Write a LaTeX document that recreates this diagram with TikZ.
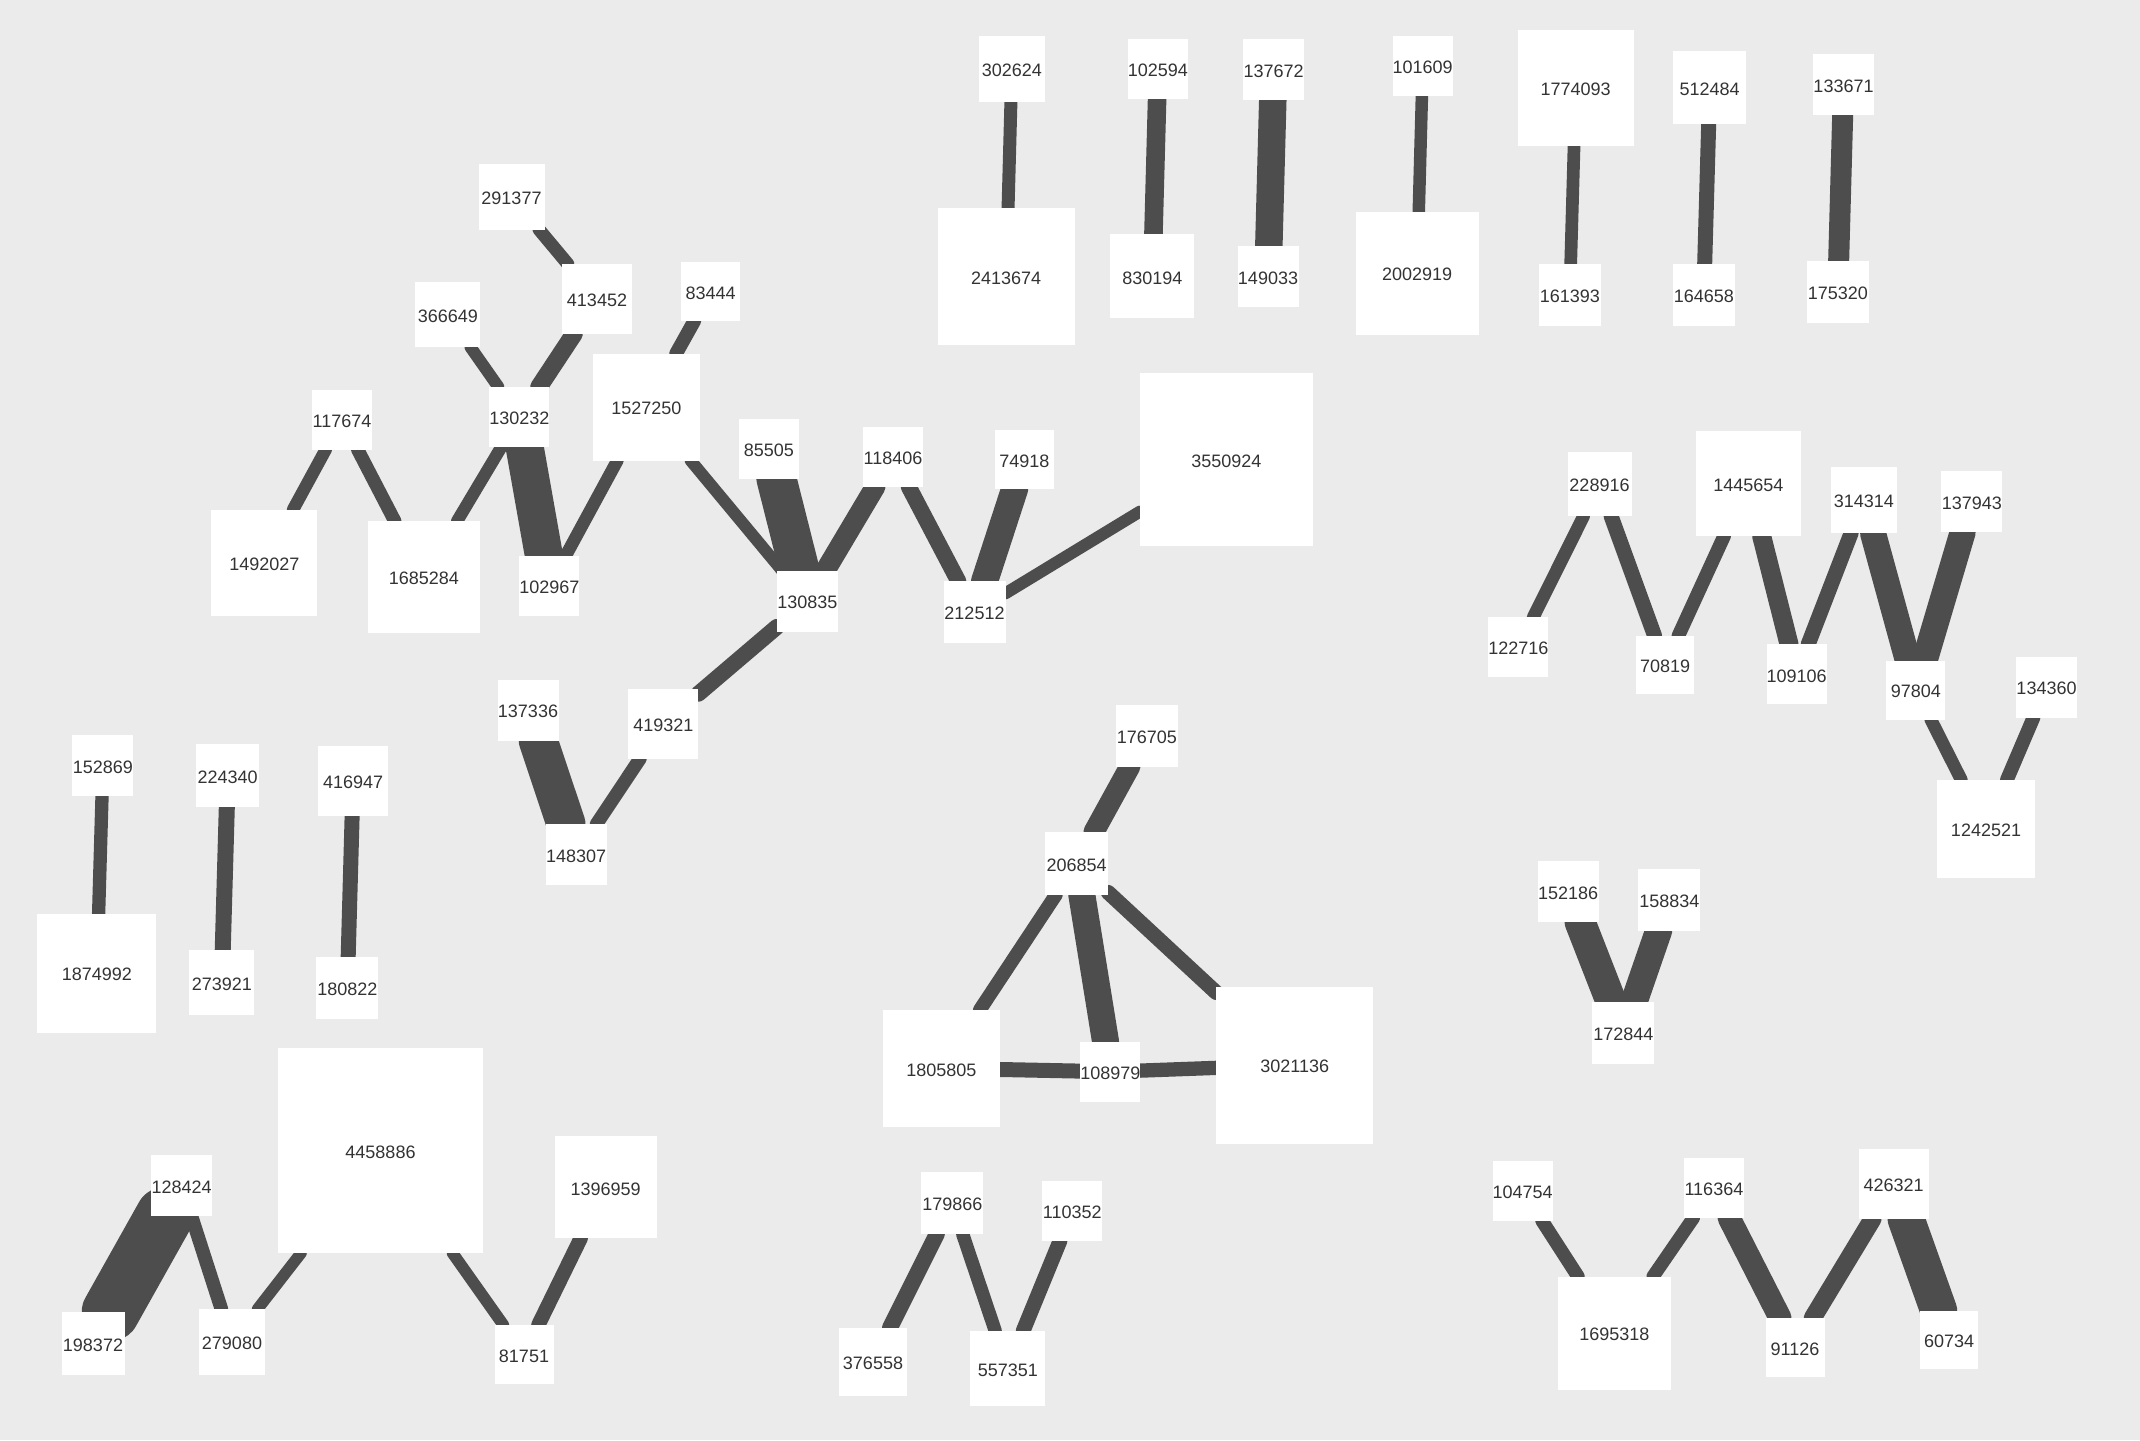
\documentclass[tikz,border=0pt]{standalone}
\usepackage{fontspec}
\setmainfont{Liberation Sans}
\pgfdeclarelayer{bg}
\pgfdeclarelayer{edges}
\pgfsetlayers{bg,edges,main}
\definecolor{bgc}{HTML}{EBEBEB}
\definecolor{edc}{HTML}{4D4D4D}
\definecolor{txc}{HTML}{333333}
\tikzset{
  box/.style={fill=white, draw=none, inner sep=0pt, outer sep=0pt, minimum size=#1pt, text=txc, font=\fontsize{18}{21}\selectfont, text height=15.5pt, text depth=0pt},
  link/.style={draw=edc, line width=#1pt, line cap=round},
}
\begin{document}
\begin{tikzpicture}[x=1pt,y=-1pt]
\begin{pgfonlayer}{bg}
\useasboundingbox (0,0) rectangle (2140,1440);
\fill[bgc] (0,0) rectangle (2140,1440);
\end{pgfonlayer}
% top row pairs
\node[box=66] (n302624) at (1011.8,69.2) {302624};
\node[box=137] (n2413674) at (1006.2,276.5) {2413674};
\node[box=60] (n102594) at (1157.9,69.2) {102594};
\node[box=84] (n830194) at (1152.3,276.3) {830194};
\node[box=61] (n137672) at (1273.6,69.3) {137672};
\node[box=61] (n149033) at (1268,276.3) {149033};
\node[box=60] (n101609) at (1422.7,66) {101609};
\node[box=123] (n2002919) at (1417.1,273) {2002919};
\node[box=116] (n1774093) at (1575.7,87.7) {1774093};
\node[box=62] (n161393) at (1569.8,294.8) {161393};
\node[box=73] (n512484) at (1709.7,87.7) {512484};
\node[box=62] (n164658) at (1703.8,294.8) {164658};
\node[box=61] (n133671) at (1843.5,84.5) {133671};
\node[box=62] (n175320) at (1837.8,291.8) {175320};
% left cluster
\node[box=66] (n291377) at (511.5,196.5) {291377};
\node[box=70] (n413452) at (597,299) {413452};
\node[box=59] (n83444) at (710.7,291.5) {83444};
\node[box=65] (n366649) at (447.8,314.8) {366649};
\node[box=60] (n130232) at (519.3,416.8) {130232};
\node[box=107] (n1527250) at (646.3,407) {1527250};
\node[box=60] (n117674) at (342.1,419.5) {117674};
\node[box=106] (n1492027) at (264.3,562.5) {1492027};
\node[box=112] (n1685284) at (423.8,577) {1685284};
\node[box=60] (n102967) at (549.3,586) {102967};
\node[box=60] (n85505) at (768.8,448.5) {85505};
\node[box=60] (n118406) at (893,456.8) {118406};
\node[box=59] (n74918) at (1024.3,459.3) {74918};
\node[box=173] (n3550924) at (1226.3,459.3) {3550924};
\node[box=61] (n130835) at (807.3,601) {130835};
\node[box=62] (n212512) at (974.5,612.1) {212512};
\node[box=70] (n419321) at (663.4,723.5) {419321};
\node[box=61] (n137336) at (528,710) {137336};
\node[box=61] (n148307) at (576.2,854.5) {148307};
% lower left
\node[box=61] (n152869) at (102.9,765.8) {152869};
\node[box=119] (n1874992) at (96.9,973) {1874992};
\node[box=63] (n224340) at (227.7,775.8) {224340};
\node[box=65] (n273921) at (221.8,982.8) {273921};
\node[box=70] (n416947) at (353.1,781) {416947};
\node[box=62] (n180822) at (347.3,988.2) {180822};
\node[box=205] (n4458886) at (380.5,1150.5) {4458886};
\node[box=102] (n1396959) at (605.6,1187.3) {1396959};
\node[box=61] (n128424) at (181.6,1185.5) {128424};
\node[box=63] (n198372) at (93,1343.5) {198372};
\node[box=66] (n279080) at (232,1342) {279080};
\node[box=59] (n81751) at (524,1354.3) {81751};
% middle
\node[box=62] (n176705) at (1146.9,735.5) {176705};
\node[box=63] (n206854) at (1076.7,863.3) {206854};
\node[box=117] (n1805805) at (941.3,1068.3) {1805805};
\node[box=60] (n108979) at (1110.4,1071.7) {108979};
\node[box=157] (n3021136) at (1294.7,1065) {3021136};
\node[box=62] (n179866) at (952.3,1203.2) {179866};
\node[box=60] (n110352) at (1072.3,1210.8) {110352};
\node[box=68] (n376558) at (873,1361.7) {376558};
\node[box=75] (n557351) at (1007.8,1368.3) {557351};
% right
\node[box=64] (n228916) at (1599.5,484.2) {228916};
\node[box=105] (n1445654) at (1748.3,483.3) {1445654};
\node[box=66] (n314314) at (1863.9,500) {314314};
\node[box=61] (n137943) at (1971.8,501.3) {137943};
\node[box=60] (n122716) at (1518.4,647) {122716};
\node[box=58] (n70819) at (1665.1,664.7) {70819};
\node[box=60] (n109106) at (1796.6,674.3) {109106};
\node[box=59] (n97804) at (1915.9,690) {97804};
\node[box=61] (n134360) at (2046.5,687) {134360};
\node[box=98] (n1242521) at (1986,828.8) {1242521};
\node[box=61] (n152186) at (1568.2,891.7) {152186};
\node[box=62] (n158834) at (1669.3,899.8) {158834};
\node[box=62] (n172844) at (1623.3,1033) {172844};
\node[box=60] (n104754) at (1522.7,1190.7) {104754};
\node[box=113] (n1695318) at (1614.3,1333) {1695318};
\node[box=60] (n116364) at (1713.9,1188) {116364};
\node[box=70] (n426321) at (1893.6,1184) {426321};
\node[box=59] (n91126) at (1795,1347.3) {91126};
\node[box=58] (n60734) at (1949,1339.5) {60734};
\begin{pgfonlayer}{edges}
\draw[link=13] (n302624) -- (n2413674);
\draw[link=18.6] (n102594) -- (n830194);
\draw[link=27.5] (n137672) -- (n149033);
\draw[link=12.5] (n101609) -- (n2002919);
\draw[link=12.7] (n1774093) -- (n161393);
\draw[link=15] (n512484) -- (n164658);
\draw[link=21] (n133671) -- (n175320);
\draw[link=13] (n291377) -- (n413452);
\draw[link=17.6] (n413452) -- (n130232);
\draw[link=12] (n366649) -- (n130232);
\draw[link=13.7] (n83444) -- (n1527250);
\draw[link=12.5] (n117674) -- (n1492027);
\draw[link=13.3] (n117674) -- (n1685284);
\draw[link=12.3] (n130232) -- (n1685284);
\draw[link=38] (n130232) -- (n102967);
\draw[link=12.6] (n1527250) -- (n102967);
\draw[link=12] (n1527250) -- (n130835);
\draw[link=40] (n85505) -- (n130835);
\draw[link=20.4] (n118406) -- (n130835);
\draw[link=16] (n118406) -- (n212512);
\draw[link=27] (n74918) -- (n212512);
\draw[link=12] (n3550924) -- (n212512);
\draw[link=16] (n130835) -- (n419321);
\draw[link=39] (n137336) -- (n148307);
\draw[link=13.4] (n419321) -- (n148307);
\draw[link=13.3] (n152869) -- (n1874992);
\draw[link=16] (n224340) -- (n273921);
\draw[link=15] (n416947) -- (n180822);
\draw[link=58] (n128424) -- (n198372);
\draw[link=13.6] (n128424) -- (n279080);
\draw[link=11.5] (n4458886) -- (n279080);
\draw[link=11.7] (n4458886) -- (n81751);
\draw[link=14.4] (n1396959) -- (n81751);
\draw[link=21] (n176705) -- (n206854);
\draw[link=13.7] (n206854) -- (n1805805);
\draw[link=27] (n206854) -- (n108979);
\draw[link=15] (n206854) -- (n3021136);
\draw[link=15] (n1805805) -- (n108979);
\draw[link=14.3] (n108979) -- (n3021136);
\draw[link=16] (n179866) -- (n376558);
\draw[link=13.3] (n179866) -- (n557351);
\draw[link=14.8] (n110352) -- (n557351);
\draw[link=12.8] (n228916) -- (n122716);
\draw[link=15] (n228916) -- (n70819);
\draw[link=13.6] (n1445654) -- (n70819);
\draw[link=19] (n1445654) -- (n109106);
\draw[link=15] (n314314) -- (n109106);
\draw[link=26] (n314314) -- (n97804);
\draw[link=26] (n137943) -- (n97804);
\draw[link=12.8] (n97804) -- (n1242521);
\draw[link=13.8] (n134360) -- (n1242521);
\draw[link=31] (n152186) -- (n172844);
\draw[link=27] (n158834) -- (n172844);
\draw[link=13.5] (n104754) -- (n1695318);
\draw[link=13.3] (n116364) -- (n1695318);
\draw[link=23] (n116364) -- (n91126);
\draw[link=18] (n426321) -- (n91126);
\draw[link=37] (n426321) -- (n60734);
\end{pgfonlayer}
\end{tikzpicture}
\end{document}
